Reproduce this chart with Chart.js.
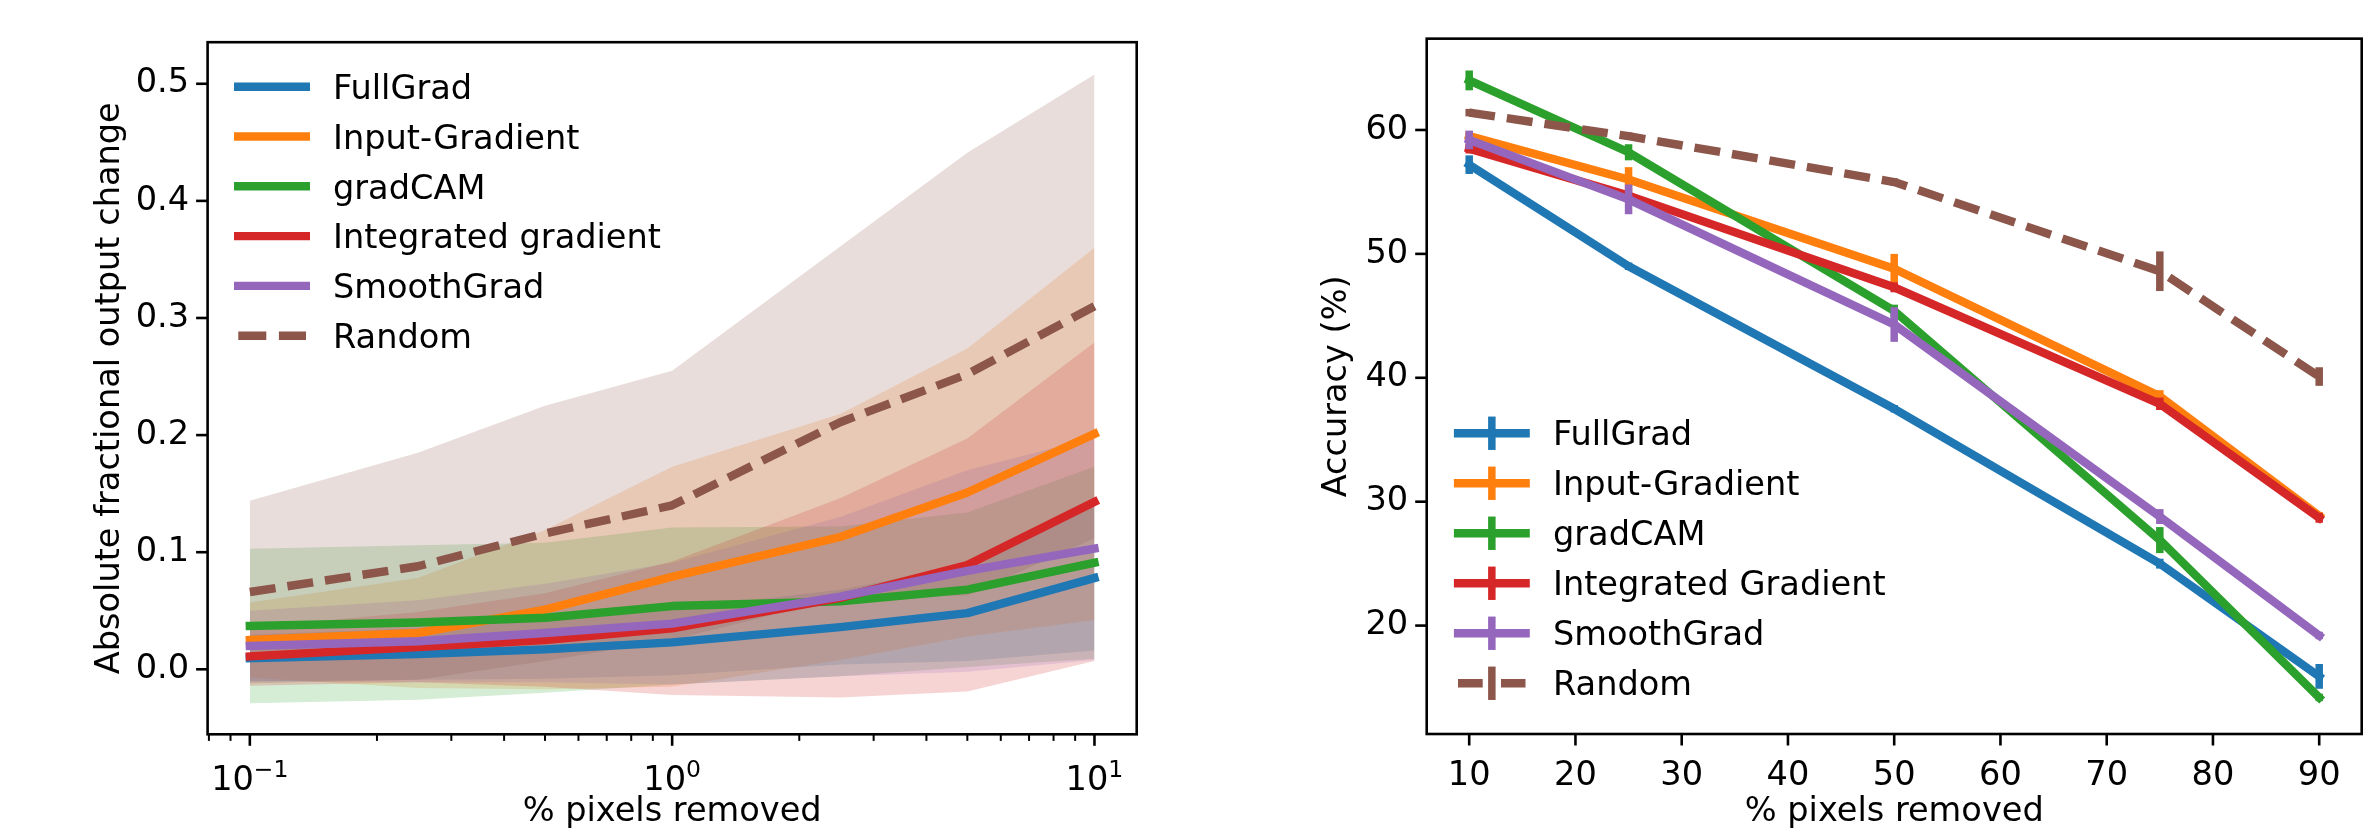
<!DOCTYPE html>
<html>
<head>
<meta charset="utf-8">
<script src="https://cdn.jsdelivr.net/npm/chart.js@4.4.1/dist/chart.umd.min.js"></script>
<style>
html, body { margin: 0; padding: 0; background: #fff; }
#wrap { position: relative; width: 2363px; height: 828px; overflow: hidden; background: #fff; }
#leftChart { position: absolute; left: 0; top: 0; }
#rightChart { position: absolute; left: 1180px; top: 0; }
</style>
</head>
<body>
<div id="wrap">
    <canvas id="leftChart" width="1180" height="828"></canvas>
    <canvas id="rightChart" width="1183" height="828"></canvas>
</div>
<script>
// ---- data: left panel (output change vs % pixels removed, log x) ----
const methodNames = ['FullGrad', 'Input-Gradient', 'gradCAM', 'Integrated gradient', 'SmoothGrad', 'Random'];
const pixelsRemovedLog = [0.1, 0.25, 0.5, 1, 2.5, 5, 10];

const fullGradChange = [0.0095, 0.013, 0.017, 0.023, 0.036, 0.048, 0.078];
const inputGradChange = [0.025, 0.031, 0.051, 0.079, 0.113, 0.151, 0.201];
const gradCamChange = [0.037, 0.040, 0.044, 0.054, 0.058, 0.068, 0.091];
const integratedChange = [0.011, 0.019, 0.025, 0.035, 0.061, 0.089, 0.143];
const smoothGradChange = [0.020, 0.024, 0.031, 0.039, 0.062, 0.084, 0.103];
const randomChange = [0.066, 0.088, 0.116, 0.140, 0.211, 0.252, 0.310];

// spread (half width of the shaded band)
const fullGradStd = [0.020, 0.022, 0.025, 0.028, 0.032, 0.041, 0.062];
const inputGradStd = [0.032, 0.047, 0.068, 0.094, 0.105, 0.123, 0.159];
const gradCamStd = [0.066, 0.066, 0.064, 0.067, 0.064, 0.066, 0.082];
const integratedStd = [0.025, 0.030, 0.040, 0.057, 0.085, 0.108, 0.136];
const smoothGradStd = [0.030, 0.035, 0.042, 0.052, 0.068, 0.086, 0.095];
const randomStd = [0.078, 0.097, 0.109, 0.115, 0.150, 0.189, 0.198];

const changeXTicks = [0.1, 1, 10];
const changeXTickBase = '10';
const changeXTickExponents = ['\u22121', '0', '1'];
const changeXMinorTicks = [0.08, 0.09, 0.2, 0.3, 0.4, 0.5, 0.6, 0.7, 0.8, 0.9, 2, 3, 4, 5, 6, 7, 8, 9];
const changeYTicks = [0, 0.1, 0.2, 0.3, 0.4, 0.5];
const changeYTickLabels = ['0.0', '0.1', '0.2', '0.3', '0.4', '0.5'];

// ---- data: right panel (accuracy vs % pixels removed) ----
const accuracyNames = ['FullGrad', 'Input-Gradient', 'gradCAM', 'Integrated Gradient', 'SmoothGrad', 'Random'];
const pixelsRemoved = [10, 25, 50, 75, 90];

const fullGradAcc = [57.2, 49.0, 37.5, 25.0, 15.9];
const inputGradAcc = [59.5, 56.0, 48.8, 38.5, 28.85];
const gradCamAcc = [64.0, 58.2, 45.4, 26.9, 14.2];
const integratedAcc = [58.5, 54.7, 47.3, 37.9, 28.7];
const smoothGradAcc = [59.2, 54.4, 44.3, 28.8, 19.2];
const randomAcc = [61.4, 59.5, 55.8, 48.6, 40.1];

const fullGradErr = [0.75, 0.3, 0.3, 0.4, 1.0];
const inputGradErr = [0.4, 1.0, 1.2, 0.5, 0.3];
const gradCamErr = [0.8, 0.65, 0.5, 1.05, 0.3];
const integratedErr = [0.4, 0.3, 0.4, 0.5, 0.4];
const smoothGradErr = [0.75, 1.2, 1.4, 0.6, 0.3];
const randomErr = [0.3, 0.3, 0.3, 1.6, 0.75];

const accXTicks = [10, 20, 30, 40, 50, 60, 70, 80, 90];
const accYTicks = [20, 30, 40, 50, 60];

const colors = ['#1f77b4', '#ff7f0e', '#2ca02c', '#d62728', '#9467bd', '#8c564b'];

const changeMeans = [fullGradChange, inputGradChange, gradCamChange, integratedChange, smoothGradChange, randomChange];
const changeStds = [fullGradStd, inputGradStd, gradCamStd, integratedStd, smoothGradStd, randomStd];
const accMeans = [fullGradAcc, inputGradAcc, gradCamAcc, integratedAcc, smoothGradAcc, randomAcc];
const accErrs = [fullGradErr, inputGradErr, gradCamErr, integratedErr, smoothGradErr, randomErr];

const FONT_SIZE = 33.6;
const FONT_FAMILY = "'DejaVu Sans', sans-serif";
Chart.defaults.font.family = FONT_FAMILY;
Chart.defaults.font.size = FONT_SIZE;
Chart.defaults.color = '#000';

function withAlpha(hex, a) {
    const n = parseInt(hex.slice(1), 16);
    return 'rgba(' + (n >> 16) + ',' + ((n >> 8) & 255) + ',' + (n & 255) + ',' + a + ')';
}

// box, tick marks and (optionally) power-of-ten tick labels, matplotlib style
const mplAxes = {
    id: 'mplAxes',
    afterDraw(chart, args, o) {
        const { ctx, chartArea: a, scales } = chart;
        ctx.save();
        ctx.strokeStyle = '#000';
        ctx.lineCap = 'butt';
        function seg(x0, y0, x1, y1) {
            ctx.beginPath(); ctx.moveTo(x0, y0); ctx.lineTo(x1, y1); ctx.stroke();
        }
        ctx.lineWidth = 2.6;
        o.xMajor.forEach(v => { const x = scales.x.getPixelForValue(v); seg(x, a.bottom, x, a.bottom + 11.5); });
        o.yMajor.forEach(v => { const y = scales.y.getPixelForValue(v); seg(a.left, y, a.left - 11.5, y); });
        ctx.lineWidth = 2;
        (o.xMinor || []).forEach(v => { const x = scales.x.getPixelForValue(v); seg(x, a.bottom, x, a.bottom + 6.6); });
        ctx.lineWidth = 2.6;
        ctx.strokeRect(a.left, a.top, a.right - a.left, a.bottom - a.top);

        if (o.powBase) {
            const bigFont = FONT_SIZE + 'px ' + FONT_FAMILY;
            const smallFont = (FONT_SIZE * 0.7) + 'px ' + FONT_FAMILY;
            ctx.fillStyle = '#000';
            ctx.textBaseline = 'alphabetic';
            ctx.textAlign = 'left';
            o.xMajor.forEach((v, i) => {
                const x = scales.x.getPixelForValue(v);
                ctx.font = bigFont;
                const wBase = ctx.measureText(o.powBase).width;
                ctx.font = smallFont;
                const wExp = ctx.measureText(o.powExps[i]).width;
                const x0 = x - (wBase + wExp) / 2;
                const yb = a.bottom + o.powBaseline;
                ctx.font = bigFont;
                ctx.fillText(o.powBase, x0, yb);
                ctx.font = smallFont;
                ctx.fillText(o.powExps[i], x0 + wBase, yb - 13.5);
            });
        }
        ctx.restore();
    }
};

// legend drawn inside the axes
const mplLegend = {
    id: 'mplLegend',
    afterDraw(chart, args, o) {
        const { ctx, chartArea: a } = chart;
        ctx.save();
        ctx.font = FONT_SIZE + 'px ' + FONT_FAMILY;
        ctx.textBaseline = 'alphabetic';
        o.labels.forEach((label, i) => {
            const y = a.top + o.rowY + i * o.rowStep;
            ctx.strokeStyle = o.colors[i];
            ctx.lineWidth = 8.4;
            ctx.lineCap = 'butt';
            ctx.beginPath();
            if (i === o.dashedIndex) {
                ctx.setLineDash(o.dash);
                ctx.moveTo(a.left + o.dashX0, y); ctx.lineTo(a.left + o.dashX1, y);
            } else {
                ctx.setLineDash([]);
                ctx.moveTo(a.left + o.lineX0, y); ctx.lineTo(a.left + o.lineX1, y);
            }
            ctx.stroke();
            ctx.setLineDash([]);
            if (o.barHalf) {
                const cx = a.left + (o.lineX0 + o.lineX1) / 2;
                ctx.lineWidth = 7.5;
                ctx.beginPath(); ctx.moveTo(cx, y - o.barHalf); ctx.lineTo(cx, y + o.barHalf); ctx.stroke();
            }
            ctx.fillStyle = '#000';
            ctx.fillText(label, a.left + o.textX, y + 12.2);
        });
        ctx.restore();
    }
};

// vertical error bars from dataset.errors
const errorBars = {
    id: 'errorBars',
    afterDatasetDraw(chart, args) {
        const ds = chart.data.datasets[args.index];
        if (!ds.errors) return;
        const { ctx } = chart;
        const yScale = chart.scales.y;
        ctx.save();
        ctx.strokeStyle = ds.borderColor;
        ctx.lineWidth = 7.5;
        ctx.lineCap = 'butt';
        args.meta.data.forEach((pt, k) => {
            const v = ds.data[k].y;
            const e = ds.errors[k];
            ctx.beginPath();
            ctx.moveTo(pt.x, yScale.getPixelForValue(v - e));
            ctx.lineTo(pt.x, yScale.getPixelForValue(v + e));
            ctx.stroke();
        });
        ctx.restore();
    }
};

// ---------- left chart ----------
const leftSets = [];
changeMeans.forEach((mean, i) => {
    const lowIdx = leftSets.length;
    leftSets.push({
        data: pixelsRemovedLog.map((x, k) => ({ x: x, y: mean[k] - changeStds[i][k] })),
        borderColor: 'transparent', backgroundColor: 'transparent',
        pointRadius: 0, fill: false, order: 100 - i
    });
    leftSets.push({
        data: pixelsRemovedLog.map((x, k) => ({ x: x, y: mean[k] + changeStds[i][k] })),
        borderColor: 'transparent', backgroundColor: withAlpha(colors[i], 0.2),
        pointRadius: 0, fill: lowIdx, order: 100 - i
    });
});
changeMeans.forEach((mean, i) => {
    const dashed = i === 5;
    leftSets.push({
        label: methodNames[i],
        data: pixelsRemovedLog.map((x, k) => ({ x: x, y: mean[k] })),
        borderColor: colors[i],
        borderWidth: 8.4,
        borderDash: dashed ? [26, 12] : [],
        borderCapStyle: dashed ? 'butt' : 'square',
        borderJoinStyle: 'round',
        pointRadius: 0,
        fill: false,
        order: 10 - i
    });
});

new Chart(document.getElementById('leftChart'), {
    type: 'line',
    data: { datasets: leftSets },
    options: {
        responsive: false,
        animation: false,
        events: [],
        layout: { padding: { left: 0, top: 42.2, right: 43.3, bottom: 0 } },
        plugins: {
            legend: { display: false },
            tooltip: { enabled: false },
            filler: { drawTime: 'beforeDatasetsDraw', propagate: false },
            mplAxes: {
                xMajor: changeXTicks, xMinor: changeXMinorTicks, yMajor: changeYTicks,
                powBase: changeXTickBase, powExps: changeXTickExponents, powBaseline: 56
            },
            mplLegend: {
                labels: methodNames, colors: colors, dashedIndex: 5,
                lineX0: 26.4, lineX1: 102.4, dashX0: 30.7, dashX1: 98.4, dash: [28, 12.6],
                textX: 125.4, rowY: 44.5, rowStep: 49.8, barHalf: 0
            }
        },
        scales: {
            x: {
                type: 'logarithmic',
                min: Math.pow(10, -1.1),
                max: Math.pow(10, 1.1),
                afterBuildTicks: s => { s.ticks = changeXTicks.map(v => ({ value: v, major: true })); },
                afterFit: s => { s.height = 93.7; },
                ticks: {
                    autoSkip: false, maxRotation: 0, minRotation: 0, padding: 22,
                    callback: () => ''
                },
                grid: { display: false, drawTicks: false },
                border: { display: false },
                title: { display: true, text: '% pixels removed', padding: 0, font: { lineHeight: 0.94 } }
            },
            y: {
                type: 'linear',
                min: -0.0555,
                max: 0.5355,
                afterBuildTicks: s => { s.ticks = changeYTicks.map(v => ({ value: v })); },
                afterFit: s => { s.width = 207.6; },
                ticks: {
                    padding: 18.5,
                    callback: v => changeYTickLabels[changeYTicks.indexOf(v)]
                },
                grid: { display: false, drawTicks: false },
                border: { display: false },
                title: { display: true, text: 'Absolute fractional output change', padding: { top: 89.8, bottom: 0 } }
            }
        }
    },
    plugins: [mplAxes, mplLegend]
});

// ---------- right chart ----------
const rightSets = accMeans.map((mean, i) => {
    const dashed = i === 5;
    return {
        label: accuracyNames[i],
        data: pixelsRemoved.map((x, k) => ({ x: x, y: mean[k] })),
        errors: accErrs[i],
        borderColor: colors[i],
        borderWidth: 8.4,
        borderDash: dashed ? [26, 12] : [],
        borderCapStyle: dashed ? 'butt' : 'square',
        borderJoinStyle: 'round',
        pointRadius: 0,
        fill: false,
        order: 10 - i
    };
});

new Chart(document.getElementById('rightChart'), {
    type: 'line',
    data: { datasets: rightSets },
    options: {
        responsive: false,
        animation: false,
        events: [],
        layout: { padding: { left: 0, top: 36.7, right: 1.3, bottom: 0 } },
        plugins: {
            legend: { display: false },
            tooltip: { enabled: false },
            mplAxes: { xMajor: accXTicks, yMajor: accYTicks },
            mplLegend: {
                labels: accuracyNames, colors: colors, dashedIndex: 5,
                lineX0: 27.2, lineX1: 103.1, dashX0: 31.3, dashX1: 98.8, dash: [24.7, 18.3],
                textX: 126.3, rowY: 394.6, rowStep: 50, barHalf: 16.7
            }
        },
        scales: {
            x: {
                type: 'linear',
                min: 6,
                max: 94,
                afterBuildTicks: s => { s.ticks = accXTicks.map(v => ({ value: v })); },
                afterFit: s => { s.height = 94; },
                ticks: {
                    autoSkip: false, maxRotation: 0, minRotation: 0, padding: 22,
                    callback: v => String(v)
                },
                grid: { display: false, drawTicks: false },
                border: { display: false },
                title: { display: true, text: '% pixels removed', padding: 0, font: { lineHeight: 0.94 } }
            },
            y: {
                type: 'linear',
                min: 11.25,
                max: 67.37,
                afterBuildTicks: s => { s.ticks = accYTicks.map(v => ({ value: v })); },
                afterFit: s => { s.width = 246.7; },
                ticks: { padding: 18.5, callback: v => String(v) },
                grid: { display: false, drawTicks: false },
                border: { display: false },
                title: { display: true, text: 'Accuracy (%)', padding: { top: 137.4, bottom: 0 } }
            }
        }
    },
    plugins: [mplAxes, mplLegend, errorBars]
});
</script>
</body>
</html>
